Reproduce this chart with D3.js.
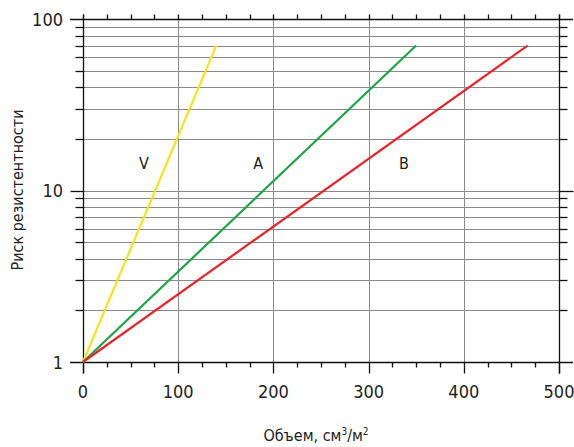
<!DOCTYPE html>
<html>
<head>
<meta charset="utf-8">
<script src="https://cdn.jsdelivr.net/npm/d3@7"></script>
<style>
  body { margin: 0; background: #fff; }
  text { font-family: "Liberation Sans Narrow", "DejaVu Sans Condensed", "Liberation Sans", sans-serif; fill: #222; }
</style>
</head>
<body>
<div id="chart"></div>
<script>
// series: straight lines on a log scale, start and end points
const seriesNames = ["V", "A", "B"];
const seriesColors = ["#f2e51c", "#1ea447", "#e8232b"];
const seriesX = [[0, 140], [0, 350], [0, 467]];
const seriesY = [[1, 70], [1, 70], [1, 70]];
const labelX = [64, 184, 337];
const labelY = [14.5, 14.5, 14.5];

const xTicksMajor = [0, 100, 200, 300, 400, 500];
const xTicksMinor = d3.range(0, 501, 25);
const yTicksMajor = [1, 10, 100];
const yTicksMinor = [2, 3, 4, 5, 6, 7, 8, 9, 20, 30, 40, 50, 60, 70, 80, 90];

const W = 574, H = 447;
const svg = d3.select("#chart").append("svg").attr("width", W).attr("height", H);

const x = d3.scaleLinear().domain([0, 500]).range([83, 559]);
const y = d3.scaleLog().domain([1, 100]).range([362, 19]);

const grid = svg.append("g").attr("stroke", "#8a8a8a").attr("stroke-width", 1);
// horizontal grid
grid.selectAll("line.h")
  .data(yTicksMinor.concat([10]))
  .enter().append("line")
  .attr("x1", x(0)).attr("x2", x(500))
  .attr("y1", d => Math.round(y(d)) + 0.5).attr("y2", d => Math.round(y(d)) + 0.5);
// vertical grid
grid.selectAll("line.v")
  .data([100, 200, 300, 400])
  .enter().append("line")
  .attr("x1", d => Math.round(x(d)) + 0.5).attr("x2", d => Math.round(x(d)) + 0.5)
  .attr("y1", y(100)).attr("y2", y(1));

const ax = svg.append("g").attr("stroke", "#111").attr("stroke-width", 1.3);
const yt = Math.round(y(100)) + 0.5, yb = Math.round(y(1)) + 0.5;
const xl = Math.round(x(0)) + 0.5, xr = Math.round(x(500)) + 0.5;
// frame
ax.append("line").attr("x1", 70).attr("x2", 573).attr("y1", yt).attr("y2", yt);
ax.append("line").attr("x1", 70).attr("x2", 573).attr("y1", yb).attr("y2", yb);
ax.append("line").attr("x1", xl).attr("x2", xl).attr("y1", yt - 5).attr("y2", yb + 11);
ax.append("line").attr("x1", xr).attr("x2", xr).attr("y1", yt - 5).attr("y2", yb + 11);

// x ticks: bottom and top
xTicksMinor.forEach(v => {
  const px = Math.round(x(v)) + 0.5;
  const major = xTicksMajor.includes(v);
  ax.append("line").attr("x1", px).attr("x2", px).attr("y1", yb).attr("y2", yb + (major ? 11 : 5));
  ax.append("line").attr("x1", px).attr("x2", px).attr("y1", yt).attr("y2", yt - 5);
});
// y ticks: left and right
yTicksMinor.concat([10]).forEach(v => {
  const py = Math.round(y(v)) + 0.5;
  const major = yTicksMajor.includes(v);
  ax.append("line").attr("x1", xl).attr("x2", xl - (major ? 13 : 8)).attr("y1", py).attr("y2", py);
  ax.append("line").attr("x1", xr).attr("x2", xr + (major ? 14 : 8)).attr("y1", py).attr("y2", py);
});

// tick labels
svg.selectAll("text.xt").data(xTicksMajor).enter().append("text")
  .attr("x", d => x(d)).attr("y", 398)
  .attr("text-anchor", "middle").style("font-size", "18px")
  .text(d => d);
svg.selectAll("text.yt").data(yTicksMajor).enter().append("text")
  .attr("x", 63).attr("y", d => y(d) + 6.5)
  .attr("text-anchor", "end").style("font-size", "18px")
  .text(d => d);

// axis titles
svg.append("text").attr("x", 316).attr("y", 441).attr("text-anchor", "middle")
  .style("font-size", "16px")
  .html('Объем, см<tspan dy="-6" font-size="10px">3</tspan><tspan dy="6">/м</tspan><tspan dy="-6" font-size="10px">2</tspan>');
svg.append("text").attr("transform", "translate(23,190) rotate(-90)")
  .attr("text-anchor", "middle").style("font-size", "16px")
  .text("Риск резистентности");

// series lines
const line = d3.line().x(d => x(d[0])).y(d => y(d[1]));
seriesNames.forEach((name, i) => {
  const pts = seriesX[i].map((v, j) => [v, seriesY[i][j]]);
  svg.append("path").datum(pts)
    .attr("d", line)
    .attr("fill", "none")
    .attr("stroke", seriesColors[i])
    .attr("stroke-width", 2.2);
  svg.append("text")
    .attr("x", x(labelX[i])).attr("y", y(labelY[i]) + 6)
    .attr("text-anchor", "middle").style("font-size", "16px")
    .text(name);
});
</script>
</body>
</html>
